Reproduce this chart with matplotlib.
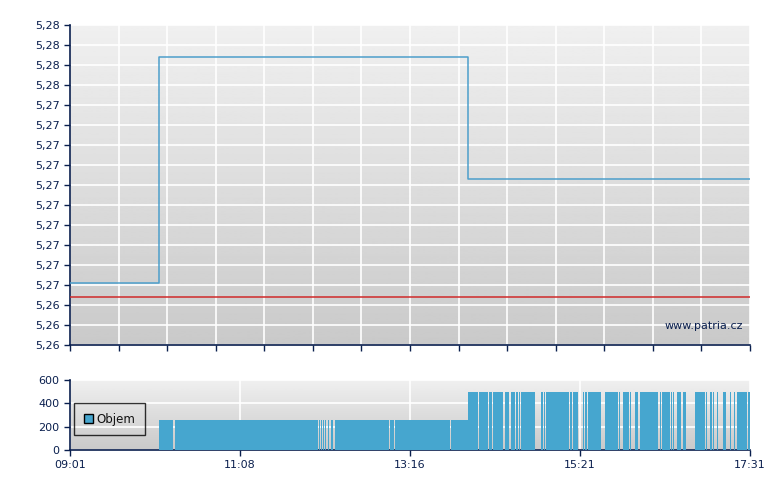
import numpy as np
import matplotlib
matplotlib.use("Agg")
import matplotlib.pyplot as plt
from matplotlib.ticker import FuncFormatter
from matplotlib.patches import Patch

# minutes since 09:01 (session ends 17:31 = 510)
session_len = 510
x_tick_labels = ['09:01', '11:08', '13:16', '15:21', '17:31']

# price (step line)
price_times = [0, 66.75, 298.5, 510]
price_vals = [5.2657, 5.2770, 5.2709, 5.2709]
prev_close = 5.2650
y_min, y_max, y_step = 5.2626, 5.2786, 0.001

# volume blocks: start, end (minutes) and volume
low_starts = [66.75, 78.4, 152.6, 186.75, 188.25, 189.75, 191.25, 193.5, 196.1, 198.75, 240, 243.75, 285.75]
low_ends = [77.6, 151.9, 186, 187.5, 189, 190.5, 192, 194.25, 197.25, 239.25, 243, 285, 298.5]
low_vol = 260
high_starts = [298.5, 306.75, 314.25, 317.25, 326.25, 330.75, 334.5, 336.75, 338.25, 353.25,
               355.5, 357, 375, 377.25, 384.75, 386.25, 388.5, 401.25, 411.75, 414.75,
               420, 423.75, 427.5, 442.5, 444, 450.75, 452.25, 455.25, 459.75, 468.75,
               477, 480, 482.25, 485.25, 489.75, 495, 498, 500.25, 508.5]
high_ends = [306, 313.5, 316.5, 324.75, 329.25, 333.75, 336, 337.5, 348.75, 354.75,
             356.25, 374.25, 376.5, 381, 385.5, 387.75, 398.25, 411, 412.5, 419.25,
             420.75, 426, 441, 443.25, 450, 451.5, 453, 458.25, 462, 476.25,
             477.75, 481.5, 483, 486, 492, 495.75, 498.75, 507.75, 510]
high_vol = 500

navy = '#0a1f4e'
blue = '#46a6cf'
line_blue = '#4d9fcb'
plt.rcParams['font.family'] = ['DejaVu Sans']

fig = plt.figure(figsize=(7.8, 4.9), dpi=100)
W, H = 780, 490
ax = fig.add_axes([70 / W, (H - 345) / H, 680 / W, 320 / H])
axv = fig.add_axes([70 / W, (H - 450) / H, 680 / W, 70 / H])

# vertical gradient background
grad = np.linspace(0, 1, 256).reshape(-1, 1)
for a, top, bot in [(ax, 0.94, 0.79), (axv, 0.94, 0.79)]:
    a.imshow(top - (top - bot) * grad, cmap='gray', vmin=0, vmax=1, aspect='auto',
             extent=[0, 1, 0, 1], transform=a.transAxes, zorder=0)

# price chart
ax.step(price_times, price_vals, where='post', color=line_blue, lw=1.1, zorder=3)
ax.axhline(prev_close, color='#d02a2a', lw=1.1, zorder=3)
ax.set_xlim(0, session_len)
ax.set_ylim(y_min, y_max)
ax.set_yticks(np.linspace(y_min, y_max, 17))
ax.yaxis.set_major_formatter(FuncFormatter(lambda v, p: f'{v:.2f}'.replace('.', ',')))
ax.set_xticks(np.linspace(0, session_len, 15))
ax.set_xticklabels([])
ax.grid(True, color='white', lw=1.2, zorder=1)
ax.set_axisbelow(True)
ax.text(0.99, 0.06, 'www.patria.cz', transform=ax.transAxes, ha='right', va='center',
        fontsize=8, color=navy)

# volume chart
axv.bar(low_starts, low_vol, width=np.subtract(low_ends, low_starts), align='edge',
        color=blue, linewidth=0, zorder=3)
axv.bar(high_starts, high_vol, width=np.subtract(high_ends, high_starts), align='edge',
        color=blue, linewidth=0, zorder=3)
axv.set_xlim(0, session_len)
axv.set_ylim(0, 600)
axv.set_yticks([0, 200, 400, 600])
axv.set_xticks(np.linspace(0, session_len, 5))
axv.set_xticklabels(x_tick_labels)
axv.grid(True, color='white', lw=1.2, zorder=1)
axv.set_axisbelow(True)
leg = axv.legend(handles=[Patch(facecolor=blue, edgecolor='black', label='Objem')],
                 loc='center left', bbox_to_anchor=(0.0, 0.44), frameon=True, fancybox=False,
                 fontsize=8.5, handlelength=0.8, handleheight=0.8, borderpad=0.8,
                 handletextpad=0.3, borderaxespad=0.35)
leg.get_frame().set_edgecolor('black')
leg.get_frame().set_facecolor('none')
leg.get_frame().set_linewidth(1)
for t in leg.get_texts():
    t.set_color('#111111')

for a in (ax, axv):
    for s in ('top', 'right'):
        a.spines[s].set_visible(False)
    for s in ('left', 'bottom'):
        a.spines[s].set_color(navy)
        a.spines[s].set_linewidth(1.2)
    a.tick_params(colors=navy, labelcolor=navy, labelsize=8, length=4, width=1, direction='out')

fig.savefig('out.png', dpi=100)
